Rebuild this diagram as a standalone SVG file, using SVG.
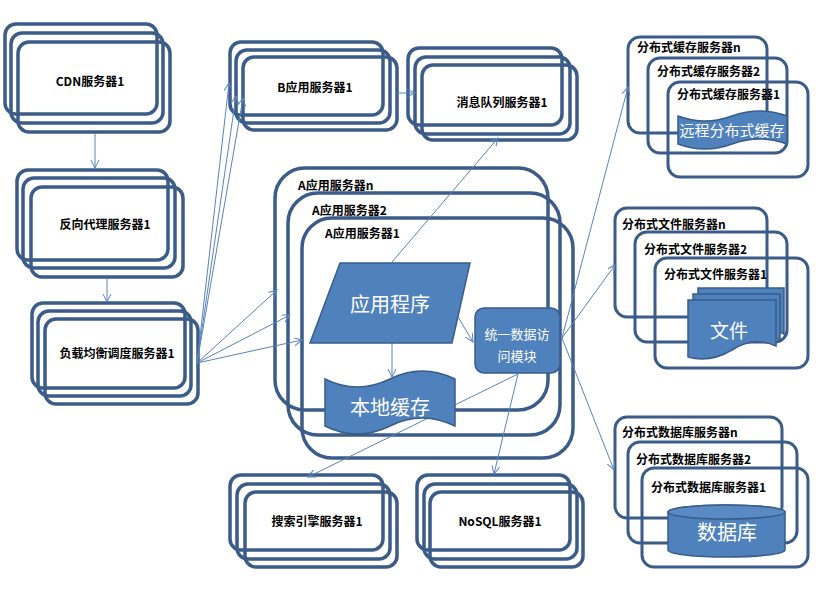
<svg xmlns="http://www.w3.org/2000/svg" width="831" height="593" viewBox="0 0 831 593">
<style>
.bx{fill:none;stroke:#3B5C88;stroke-width:3.5}
.bxr{fill:none;stroke:#3B5C88;stroke-width:3}
.lb{font-family:"Noto Sans CJK SC","Noto Sans",sans-serif;font-size:12px;font-weight:bold;fill:#000}
.lbm{text-anchor:middle}
.sh{fill:#4F81BD;stroke:#385D8A;stroke-width:1.5}
.wt{font-family:"Noto Sans CJK SC","Noto Sans",sans-serif;fill:#fff;text-anchor:middle}
.cn{fill:none;stroke:#5A82BC;stroke-width:1;marker-end:url(#ah)}
</style>
<defs>
<marker id="ah" markerUnits="userSpaceOnUse" markerWidth="10" markerHeight="10" refX="8" refY="4" orient="auto">
<path d="M0,0 L8,4 L0,8" fill="none" stroke="#5A82BC" stroke-width="1"/>
</marker>
</defs>
<rect width="831" height="593" fill="#fff"/>

<g id="cdn">
<rect class="bx" x="5" y="24" width="152" height="90" rx="11"/>
<rect class="bx" x="11" y="33" width="152" height="90" rx="11"/>
<rect class="bx" x="18" y="42" width="152" height="90" rx="11"/>
<text class="lb lbm" x="90" y="86">CDN服务器1</text>
</g>
<g id="proxy">
<rect class="bx" x="17" y="170" width="151" height="90" rx="11"/>
<rect class="bx" x="23" y="178" width="152" height="90" rx="11"/>
<rect class="bx" x="31" y="187" width="152" height="90" rx="11"/>
<text class="lb lbm" x="105" y="229">反向代理服务器1</text>
</g>
<g id="lb">
<rect class="bx" x="32" y="303" width="153" height="85" rx="11"/>
<rect class="bx" x="38" y="311" width="153" height="85" rx="11"/>
<rect class="bx" x="45" y="319" width="153" height="85" rx="11"/>
<text class="lb lbm" x="117" y="358">负载均衡调度服务器1</text>
</g>
<g id="bapp">
<rect class="bx" x="230" y="42" width="153" height="73" rx="11"/>
<rect class="bx" x="236" y="50" width="154" height="73" rx="11"/>
<rect class="bx" x="243" y="57" width="154" height="73" rx="11"/>
<text class="lb lbm" x="315" y="92">B应用服务器1</text>
</g>
<g id="mq">
<rect class="bx" x="408" y="48" width="154" height="77" rx="11"/>
<rect class="bx" x="415" y="57" width="155" height="77" rx="11"/>
<rect class="bx" x="422" y="65" width="155" height="75" rx="11"/>
<text class="lb lbm" x="502" y="107">消息队列服务器1</text>
</g>
<g id="search">
<rect class="bx" x="230" y="475" width="153" height="75" rx="11"/>
<rect class="bx" x="237" y="484" width="153" height="75" rx="11"/>
<rect class="bx" x="245" y="492" width="152" height="75" rx="11"/>
<text class="lb lbm" x="317" y="526">搜索引擎服务器1</text>
</g>
<g id="nosql">
<rect class="bx" x="417" y="475" width="153" height="75" rx="11"/>
<rect class="bx" x="424" y="484" width="153" height="75" rx="11"/>
<rect class="bx" x="430" y="492" width="153" height="75" rx="11"/>
<text class="lb lbm" x="500" y="526">NoSQL服务器1</text>
</g>
<g id="aapp">
<rect class="bx" x="275" y="168" width="273" height="242" rx="30"/>
<rect class="bx" x="288" y="193" width="272" height="242" rx="30"/>
<rect class="bx" x="302" y="218" width="271" height="240" rx="30"/>
<text class="lb" x="298" y="190">A应用服务器n</text>
<text class="lb" x="312" y="215">A应用服务器2</text>
<text class="lb" x="325" y="238">A应用服务器1</text>
</g>
<g id="dcache">
<rect class="bxr" x="628" y="37" width="139" height="96" rx="12"/>
<rect class="bxr" x="648" y="58" width="139" height="95" rx="12"/>
<rect class="bxr" x="668" y="82" width="140" height="95" rx="12"/>
<text class="lb" x="637" y="52">分布式缓存服务器n</text>
<text class="lb" x="657" y="76">分布式缓存服务器2</text>
<text class="lb" x="677" y="99">分布式缓存服务器1</text>
</g>
<g id="dfile">
<rect class="bxr" x="615" y="208" width="152" height="109" rx="12"/>
<rect class="bxr" x="635" y="232" width="152" height="110" rx="12"/>
<rect class="bxr" x="655" y="258" width="153" height="110" rx="12"/>
<text class="lb" x="622" y="229">分布式文件服务器n</text>
<text class="lb" x="644" y="254">分布式文件服务器2</text>
<text class="lb" x="664" y="279">分布式文件服务器1</text>
</g>
<g id="ddb">
<rect class="bxr" x="615" y="417" width="167" height="101" rx="12"/>
<rect class="bxr" x="628" y="442" width="169" height="101" rx="12"/>
<rect class="bxr" x="642" y="468" width="166" height="99" rx="12"/>
<text class="lb" x="622" y="437">分布式数据库服务器n</text>
<text class="lb" x="636" y="464">分布式数据库服务器2</text>
<text class="lb" x="651" y="492">分布式数据库服务器1</text>
</g>

<g id="connectors">
<line class="cn" x1="95" y1="133" x2="95" y2="168"/>
<line class="cn" x1="107" y1="278" x2="107" y2="302"/>
<line class="cn" x1="197" y1="363" x2="229" y2="83"/>
<line class="cn" x1="197" y1="363" x2="236" y2="96"/>
<line class="cn" x1="197" y1="363" x2="243" y2="98"/>
<line class="cn" x1="197" y1="363" x2="277" y2="290"/>
<line class="cn" x1="197" y1="363" x2="290" y2="315"/>
<line class="cn" x1="197" y1="363" x2="302" y2="340"/>
<line class="cn" x1="397" y1="93" x2="415" y2="93"/>
<line class="cn" x1="392" y1="262" x2="498" y2="138"/>
<line class="cn" x1="392" y1="343" x2="392" y2="377"/>
<line class="cn" x1="455" y1="312" x2="473" y2="342"/>
<line class="cn" x1="518" y1="374" x2="308" y2="477"/>
<line class="cn" x1="518" y1="374" x2="494" y2="474"/>
<line class="cn" x1="562" y1="338" x2="628" y2="87"/>
<line class="cn" x1="562" y1="338" x2="615" y2="265"/>
<line class="cn" x1="562" y1="338" x2="614" y2="470"/>
</g>

<g id="app">
<polygon class="sh" points="340,263 470,263 452,343 310,343"/>
<text class="wt" x="390" y="312" font-size="20">应用程序</text>
</g>
<g id="localcache">
<path class="sh" d="M325,379 Q357,395 390,379 Q422,363 455,379 L455,426 Q422,410 390,426 Q357,442 325,426 Z"/>
<text class="wt" x="390" y="415" font-size="20">本地缓存</text>
</g>
<g id="dal">
<rect class="sh" x="475" y="308" width="85" height="65" rx="9"/>
<text class="wt" x="517" y="339" font-size="13">统一数据访</text>
<text class="wt" x="517" y="361" font-size="13">问模块</text>
</g>
<g id="remotecache">
<path class="sh" d="M678,116 Q705,126 732,116 Q760,106 787,116 L787,144 Q760,134 732,144 Q705,154 678,144 Z"/>
<text class="wt" x="732" y="136" font-size="15">远程分布式缓存</text>
</g>
<g id="files">
<path class="sh" d="M698,288 H784 V334 Q762,324 740,338 Q719,350 698,344 Z"/>
<path class="sh" d="M693,294 H780 V340 Q758,330 736,344 Q714,356 693,350 Z"/>
<path class="sh" d="M688,300 H776 V346 Q754,336 732,350 Q710,363 688,357 Z"/>
<text class="wt" x="729" y="338" font-size="19">文件</text>
</g>
<g id="db">
<path class="sh" d="M668,512 A58.5,7 0 0 1 785,512 V550 A58.5,7 0 0 1 668,550 Z"/>
<ellipse cx="726.5" cy="512" rx="58.5" ry="7" fill="#5A8AC4" stroke="#385D8A" stroke-width="1.5"/>
<text class="wt" x="727" y="540" font-size="20">数据库</text>
</g>
</svg>
